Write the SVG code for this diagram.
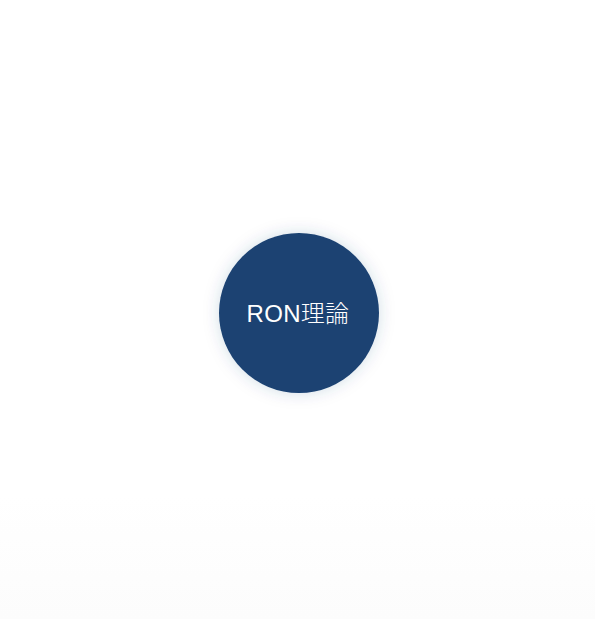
<svg xmlns="http://www.w3.org/2000/svg" width="595" height="619" viewBox="0 0 595 619">
<style>
.lbl{font-family:"Liberation Sans","Noto Sans CJK JP",sans-serif;font-size:24px;fill:#ffffff;font-weight:300;letter-spacing:0.3px}
</style>
<defs>
<linearGradient id="bg" x1="0" y1="0" x2="0" y2="1">
<stop offset="0" stop-color="#ffffff"/>
<stop offset="0.8" stop-color="#ffffff"/>
<stop offset="1" stop-color="#fcfcfc"/>
</linearGradient>
<filter id="sh" x="-30%" y="-30%" width="160%" height="160%">
<feDropShadow dx="0" dy="0" stdDeviation="8" flood-color="#1b4373" flood-opacity="0.18"/>
</filter>
</defs>
<rect width="595" height="619" fill="url(#bg)"/>
<g id="connectors"></g>
<g id="node-ron">
<circle cx="299" cy="313" r="80" fill="#1a4272" filter="url(#sh)"/>
<text class="lbl" x="298" y="322" text-anchor="middle">RON理論</text>
</g>
</svg>
